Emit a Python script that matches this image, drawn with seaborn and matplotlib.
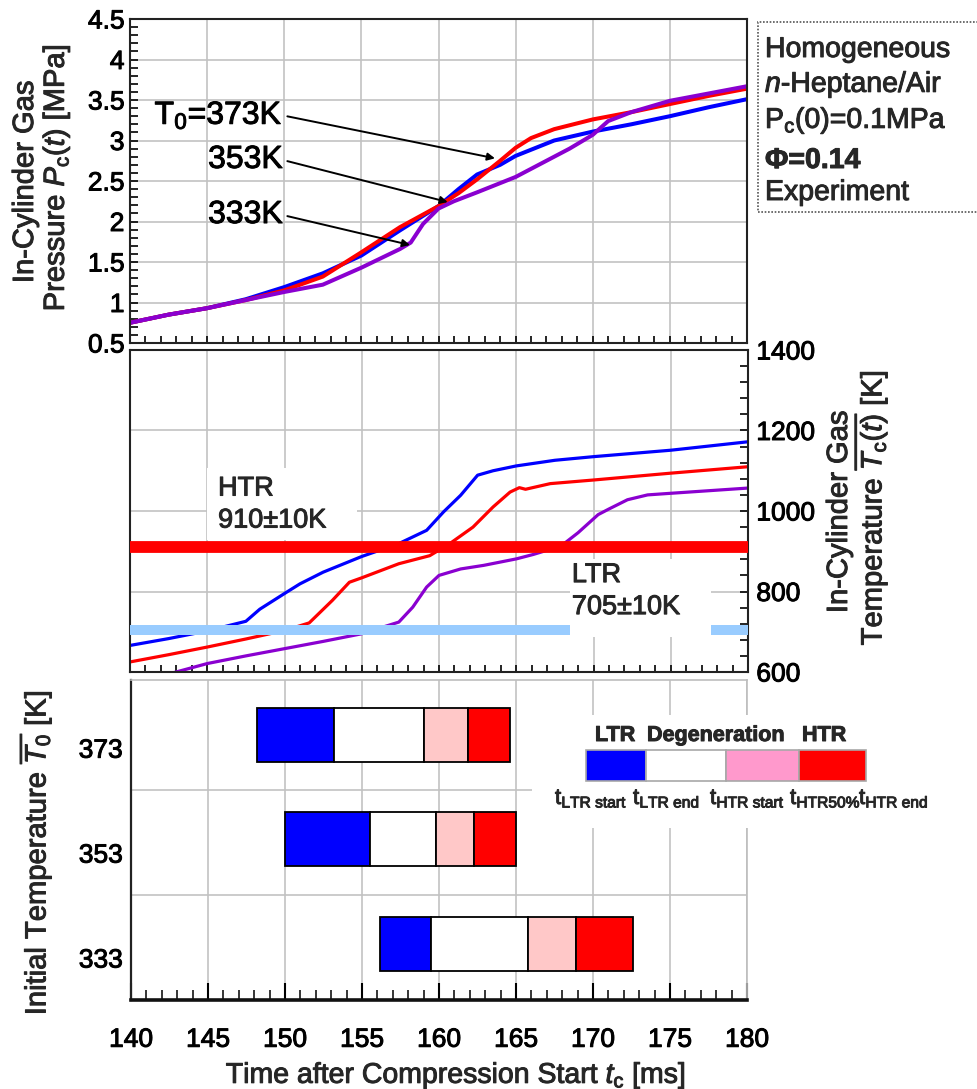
import matplotlib
matplotlib.use("Agg")
import matplotlib.pyplot as plt
import matplotlib.patheffects as pe
from matplotlib.patches import Rectangle
from matplotlib.text import Text
from matplotlib.ticker import MultipleLocator, FuncFormatter, FixedLocator
import pandas as pd
import seaborn as sns

# ---------------- data ----------------
series_labels = ["373K", "353K", "333K"]
series_colors = ["#0000FF", "#FF0000", "#8A00D0"]

# in-cylinder pressure [MPa] vs time [ms]
t_p_373 = [140, 142.5, 145, 147.5, 150, 152.5, 155, 157.5, 160, 161.3, 162.5, 164, 165, 167.5, 170, 172.5, 175, 177.5, 180]
p_373 = [0.75, 0.85, 0.93, 1.04, 1.19, 1.36, 1.58, 1.89, 2.19, 2.40, 2.58, 2.70, 2.81, 3.00, 3.11, 3.20, 3.30, 3.41, 3.51]
t_p_353 = [140, 142.5, 145, 147.5, 150, 152.5, 155, 157.5, 160, 161.3, 162.5, 164, 165, 166, 167.5, 170, 172.5, 175, 177.5, 180]
p_353 = [0.75, 0.85, 0.93, 1.03, 1.15, 1.32, 1.62, 1.93, 2.19, 2.35, 2.52, 2.75, 2.91, 3.03, 3.14, 3.26, 3.35, 3.45, 3.55, 3.64]
t_p_333 = [140, 142.5, 145, 147.5, 150, 152.5, 155, 157.5, 158.2, 159, 160, 161, 162.5, 165, 167.5, 168.5, 170, 171, 172.5, 175, 177.5, 180]
p_333 = [0.75, 0.85, 0.93, 1.03, 1.13, 1.22, 1.43, 1.66, 1.74, 1.97, 2.16, 2.25, 2.36, 2.55, 2.80, 2.90, 3.07, 3.24, 3.35, 3.49, 3.58, 3.67]

# in-cylinder gas temperature [K] vs time [ms]
t_T_373 = [140, 142.5, 145, 147.5, 148.4, 150, 151, 152.5, 155, 157.4, 159.2, 160.3, 161.4, 162.5, 163.5, 165, 167.5, 170, 175, 180]
T_373 = [666, 683, 702, 726, 756, 795, 819, 848, 887, 919, 952, 998, 1039, 1089, 1100, 1112, 1126, 1135, 1151, 1172]
t_T_353 = [140, 142.5, 145, 147.5, 150, 151.6, 153.1, 154.2, 155, 157.4, 159.4, 160.7, 162.2, 163.5, 164.6, 165.2, 165.6, 167.2, 170, 175, 180]
T_353 = [625, 643, 662, 682, 703, 722, 778, 823, 834, 869, 889, 919, 960, 1010, 1047, 1058, 1054, 1068, 1077, 1094, 1110]
t_T_333 = [142.5, 145, 147.5, 150, 152.5, 155, 157.4, 158.3, 159.2, 160, 161.4, 162.9, 165, 166.1, 167.9, 169, 170.3, 171, 172.2, 173.5, 175, 180]
T_333 = [595, 621, 640, 658, 676, 695, 724, 761, 811, 840, 856, 865, 881, 892, 913, 946, 991, 1005, 1028, 1040, 1044, 1057]

htr_T = 910
ltr_T = 705

# reaction timing per initial temperature [ms]
T0 = [373, 353, 333]
t_ltr_start = [148.2, 150.0, 156.2]
t_ltr_end = [153.2, 155.5, 159.45]
t_htr_start = [159.0, 159.8, 165.8]
t_htr_50 = [161.9, 162.3, 168.9]
t_htr_end = [164.6, 165.0, 172.6]

x_ticks = [140, 145, 150, 155, 160, 165, 170, 175, 180]

# ---------------- style ----------------
sns.set_theme(style="white")
plt.rcParams["font.family"] = ["Liberation Sans", "DejaVu Sans"]
plt.rcParams["mathtext.fontset"] = "custom"
plt.rcParams["mathtext.rm"] = "Liberation Sans"
plt.rcParams["mathtext.it"] = "Liberation Sans:italic"
plt.rcParams["mathtext.bf"] = "Liberation Sans:bold"

W, H = 977, 1089
fig = plt.figure(figsize=(W / 100, H / 100), dpi=100)
fig.patch.set_facecolor("white")


def fx(px):
    return px / W


def fy(py):
    return 1 - py / H


def add_axes_px(left, top, right, bottom):
    return fig.add_axes([fx(left), fy(bottom), (right - left) / W, (bottom - top) / H])


GRID = "#c2c2c2"
TICK_FS = 19
LABEL_FS = 21

ax_p = add_axes_px(130, 19, 747, 343)
ax_t = add_axes_px(130, 350, 748, 672)
ax_b = add_axes_px(131, 680, 747, 1000)

for ax in (ax_p, ax_t, ax_b):
    ax.set_xlim(140, 180)
    ax.xaxis.set_major_locator(FixedLocator(x_ticks))
    ax.xaxis.set_minor_locator(MultipleLocator(1))
    ax.set_axisbelow(True)
    ax.set_facecolor("white")

# ---------------- pressure panel ----------------
ax_p.grid(True, which="major", color=GRID, lw=1.2)
for t, p, c in [(t_p_373, p_373, series_colors[0]),
                (t_p_353, p_353, series_colors[1]),
                (t_p_333, p_333, series_colors[2])]:
    sns.lineplot(x=t, y=p, ax=ax_p, color=c, lw=2.9, zorder=2)
ax_p.set_ylim(0.5, 4.5)
ax_p.yaxis.set_major_locator(MultipleLocator(0.5))
ax_p.yaxis.set_minor_locator(MultipleLocator(0.1))
ax_p.yaxis.set_major_formatter(FuncFormatter(lambda v, _: f"{v:g}"))
ax_p.tick_params(axis="y", which="both", direction="in", left=True, right=False,
                 length=6, width=1.2, labelsize=TICK_FS, pad=4, colors="black")
ax_p.tick_params(axis="x", which="both", direction="in", bottom=True, top=False,
                 length=5, width=1.2, labelbottom=False, colors="black")
for s in ax_p.spines.values():
    s.set_color("#222222")
    s.set_linewidth(1.5)
ax_p.set_xlabel("")
ax_p.set_ylabel("")

annot = [("T$_0$=373K", 3.31, 163.66, 2.78),
         ("353K", 2.76, 160.6, 2.24),
         ("333K", 2.08, 158.15, 1.71)]
for txt, ty, ax_x, ax_y in annot:
    ax_p.annotate(txt, xy=(ax_x, ax_y), xytext=(149.9, ty), ha="right", va="center",
                  fontsize=23, color="black", zorder=6,
                  arrowprops=dict(arrowstyle="-|>", color="black", lw=1.4,
                                  mutation_scale=11, shrinkA=1, shrinkB=0,
                                  relpos=(1.0, 0.5)))

# ---------------- temperature panel ----------------
ax_t.grid(True, which="major", color=GRID, lw=1.2)
for t, T, c in [(t_T_373, T_373, series_colors[0]),
                (t_T_353, T_353, series_colors[1]),
                (t_T_333, T_333, series_colors[2])]:
    sns.lineplot(x=t, y=T, ax=ax_t, color=c, lw=2.3, zorder=2)
ax_t.set_ylim(600, 1400)
ax_t.yaxis.set_major_locator(MultipleLocator(200))
ax_t.yaxis.set_minor_locator(MultipleLocator(40))
ax_t.yaxis.tick_right()
ax_t.tick_params(axis="y", which="both", direction="in", left=False, right=True,
                 labelleft=False, labelright=True, length=6, width=1.2,
                 labelsize=TICK_FS, pad=6, colors="black")
ax_t.tick_params(axis="x", which="both", direction="in", bottom=True, top=False,
                 length=5, width=1.2, labelbottom=False, colors="black")
for s in ax_t.spines.values():
    s.set_color("#222222")
    s.set_linewidth(1.5)
ax_t.set_xlabel("")
ax_t.set_ylabel("")

ax_t.axhline(htr_T, color="#FF0000", lw=8.5, zorder=3, solid_capstyle="butt")
ax_t.axhline(ltr_T, color="#99CCFF", lw=7.2, zorder=3, solid_capstyle="butt")

ax_t.add_patch(Rectangle((145.0, 929), 9.7, 179, facecolor="white", edgecolor="none", zorder=4))
ax_t.add_patch(Rectangle((168.5, 687), 9.1, 194, facecolor="white", edgecolor="none", zorder=4))
ax_t.text(145.7, 1016, "HTR\n910±10K", fontsize=19.5, ha="left", va="center",
          linespacing=1.3, zorder=5)
ax_t.text(168.6, 801, "LTR\n705±10K", fontsize=19.5, ha="left", va="center",
          linespacing=1.3, zorder=5)

# ---------------- timing panel ----------------
bar_shift = 2.6
bar_h = 10.3
seg_colors = ["#0000FF", "#FFFFFF", "#FFC8C8", "#FF0000"]
bounds = [t_ltr_start, t_ltr_end, t_htr_start, t_htr_50, t_htr_end]
for k in range(4):
    starts = bounds[k]
    ends = bounds[k + 1]
    ax_b.barh([v + bar_shift for v in T0], [e - s for s, e in zip(starts, ends)],
              left=starts, height=bar_h, color=seg_colors[k], edgecolor="black",
              lw=1.3, zorder=3)
ax_b.set_ylim(325, 386)
ax_b.set_yticks(T0)
ax_b.set_yticklabels([str(v) for v in T0])
ax_b.set_yticks([345, 365], minor=True)
ax_b.yaxis.grid(True, which="minor", color=GRID, lw=1.2)
ax_b.xaxis.grid(True, which="major", color=GRID, lw=1.2)
ax_b.tick_params(axis="y", which="both", length=0, labelsize=TICK_FS, pad=6, colors="black")
ax_b.tick_params(axis="x", which="major", direction="in", bottom=True, top=False,
                 length=12, width=1.5, labelsize=TICK_FS, pad=20, colors="black")
ax_b.tick_params(axis="x", which="minor", direction="in", bottom=True, top=False,
                 length=7, width=1.3)
ax_b.spines["left"].set_color("#222222")
ax_b.spines["left"].set_linewidth(1.6)
ax_b.spines["bottom"].set_color("#111111")
ax_b.spines["bottom"].set_linewidth(2.6)
for side in ("top", "right"):
    ax_b.spines[side].set_color("#bdbdbd")
    ax_b.spines[side].set_linewidth(1.2)
ax_b.set_xlabel("")
ax_b.set_ylabel("")

# legend for the timing bars
fig.add_artist(Rectangle((fx(532), fy(828)), fx(930) - fx(532), fy(715) - fy(828),
                         transform=fig.transFigure, facecolor="white", edgecolor="none", zorder=5))
leg_edges = [586, 646, 726, 799, 866]
leg_colors = ["#0000FF", "#FFFFFF", "#FF99CC", "#FF0000"]
for k in range(4):
    fig.add_artist(Rectangle((fx(leg_edges[k]), fy(781)), fx(leg_edges[k + 1]) - fx(leg_edges[k]),
                             fy(750) - fy(781), transform=fig.transFigure,
                             facecolor=leg_colors[k], edgecolor="#a8a8a8", lw=1.2, zorder=6))
for txt, x in [("LTR", 595), ("Degeneration", 647), ("HTR", 802)]:
    fig.text(fx(x), fy(741), txt, fontsize=15.5, fontweight="bold", ha="left", va="baseline", zorder=7)
leg_sub = [(r"t$_{\mathrm{LTR\ start}}$", 555), (r"t$_{\mathrm{LTR\ end}}$", 633),
           (r"t$_{\mathrm{HTR\ start}}$", 710), (r"t$_{\mathrm{HTR50\%}}$", 790),
           (r"t$_{\mathrm{HTR\ end}}$", 859)]
for txt, x in leg_sub:
    fig.text(fx(x), fy(804), txt, fontsize=16, ha="left", va="baseline", zorder=7)

# ---------------- axis titles ----------------
fig.text(fx(25), fy(182), "In-Cylinder Gas", rotation=90, fontsize=LABEL_FS, ha="center", va="center")
fig.text(fx(56), fy(178), r"Pressure $P_\mathrm{c}(t)$ [MPa]", rotation=90, fontsize=LABEL_FS,
         ha="center", va="center")
fig.text(fx(839), fy(512), "In-Cylinder Gas", rotation=90, fontsize=LABEL_FS, ha="center", va="center")
fig.text(fx(870), fy(508), r"Temperature $\overline{T_\mathrm{c}(t)}$ [K]", rotation=90,
         fontsize=LABEL_FS, ha="center", va="center")
fig.text(fx(35), fy(853), r"Initial Temperature $\overline{T_0}$ [K]", rotation=90,
         fontsize=LABEL_FS, ha="center", va="center")
fig.text(fx(456), fy(1083), r"Time after Compression Start $t_\mathrm{c}$ [ms]",
         fontsize=20.5, ha="center", va="baseline")

# ---------------- condition box ----------------
fig.add_artist(Rectangle((fx(758), fy(212)), fx(1000) - fx(758), fy(22) - fy(212),
                         transform=fig.transFigure, fill=False, edgecolor="#555555",
                         lw=1.2, linestyle=(0, (1, 1))))
cond = [("Homogeneous", 57, "normal"), (r"$\mathit{n}$-Heptane/Air", 92, "normal"),
        (r"P$_\mathrm{c}$(0)=0.1MPa", 128, "normal"), ("Φ=0.14", 168, "bold"),
        ("Experiment", 200, "normal")]
for txt, base, wt in cond:
    fig.text(fx(765), fy(base), txt, fontsize=20.5, fontweight=wt, ha="left", va="baseline")

# slightly heavier glyph strokes for all text, tick labels included
fig.canvas.draw()
for txt_artist in fig.findobj(Text):
    if txt_artist.get_text():
        txt_artist.set_path_effects([pe.withStroke(linewidth=0.7,
                                                   foreground=txt_artist.get_color())])

fig.savefig("out.png", dpi=100, facecolor="white")
